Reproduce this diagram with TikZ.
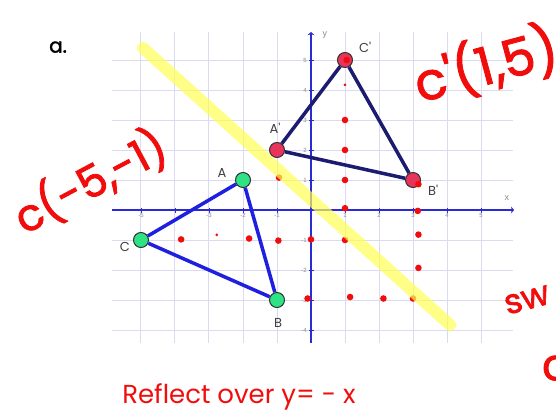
\documentclass[tikz,border=0pt]{standalone}
\usepackage{fontspec}
\setmainfont{Liberation Sans}
\newfontfamily\hand{Poppins}
\newfontfamily\marker[FakeBold=1.8]{Poppins}
\usepackage{xcolor}
\definecolor{gridc}{HTML}{DADAF2}
\definecolor{axis}{HTML}{2B2BD6}
\definecolor{edge}{HTML}{1F1FE0}
\definecolor{image}{HTML}{1B1B70}
\definecolor{pre}{HTML}{2EE383}
\definecolor{post}{HTML}{E8335A}
\definecolor{pen}{HTML}{F20D0D}
\definecolor{hl}{HTML}{FFFF55}
\usetikzlibrary{arrows.meta}

\begin{document}
\begin{tikzpicture}[x=34pt,y=30pt,
  pt/.style={circle,draw=black!80,line width=1pt,minimum size=15pt,inner sep=0pt},
  lbl/.style={font=\hand\fontsize{13}{13}\selectfont,text=black!75},
  tk/.style={font=\fontsize{6}{6}\selectfont,text=black!45,inner sep=1pt},
  note/.style={font=\marker\fontsize{44}{44}\selectfont,text=pen,inner sep=0pt}]
  \useasboundingbox[fill=white] (-311pt,-206pt) rectangle (245pt,210pt);
  % grid
  \foreach \i in {-5,...,5} \draw[gridc,line width=1pt] (\i,-4.43) -- (\i,5.93);
  \foreach \j in {-4,...,5} \draw[gridc,line width=1pt] (-5.85,\j) -- (5.94,\j);
  % axes
  \draw[axis,line width=1.4pt,-{Stealth[length=3pt,width=7pt]}] (-5.85,0) -- (5.97,0);
  \draw[axis,line width=1.4pt,-{Stealth[length=3pt,width=7pt]}] (0,-4.43) -- (0,5.93);
  \foreach \i in {-5,...,5} \draw[axis,line width=0.8pt] ([yshift=-2.5pt]\i,0) -- ([yshift=2.5pt]\i,0);
  \foreach \j in {-4,...,5} \draw[axis,line width=0.8pt] ([xshift=-2.5pt]0,\j) -- ([xshift=2.5pt]0,\j);
  \foreach \i in {-5,-3,-2,-1,1,2,3,4,5} \node[tk,below=2pt] at (\i,0) {\i};
  \foreach \j in {-4,-3,-2,-1,1,2,3,4,5} \node[tk,left=3pt] at (0,\j) {\j};
  \node[tk,font=\fontsize{9}{9}\selectfont] (xl) at (5.76,0.4) {x};
  \node[tk,font=\fontsize{9}{9}\selectfont] (yl) at (0.41,5.83) {y};
  % triangles
  \node[pt,fill=pre] (A) at (-2,1) {};
  \node[pt,fill=pre] (B) at (-1,-3) {};
  \node[pt,fill=pre] (C) at (-5,-1) {};
  \node[pt,fill=post] (A') at (-1,2) {};
  \node[pt,fill=post] (B') at (3,1) {};
  \node[pt,fill=post] (C') at (1,5) {};
  \foreach \p/\q in {A/B,B/C,C/A} \draw[edge,line width=3.5pt] (\p) -- (\q);
  \foreach \p/\q in {A'/B',B'/C',C'/A'} \draw[image,line width=3.5pt] (\p) -- (\q);
  \node[lbl] (la) at (-2.62,1.23) {A};
  \node[lbl] (lb) at (-0.97,-3.77) {B};
  \node[lbl] (lc) at (-5.47,-1.23) {C};
  \node[lbl] (la') at (-1.06,2.73) {A'};
  \node[lbl] (lb') at (3.59,0.67) {B'};
  \node[lbl] (lc') at (1.59,5.43) {C'};
  % red dots
  \foreach \x/\y in {1/3,1/2,1/1,1/0.06,1.05/5,3.16/0.86,3.14/-0.03,3.16/-0.82,3.16/-1.93,
    -3.82/-0.98,-1.82/-0.95,-0.96/-1.02,0/-0.98,1/-1,-0.1/-2.95,1.15/-2.9,2.13/-2.95,3/-2.95,-0.94/1.08}
    \fill[pen] (\x,\y) circle (3.3pt);
  \fill[pen] (1,4.17) circle (1.5pt);
  \fill[pen] (-2.77,-0.83) circle (1.5pt);
  % line of reflection
  \draw[hl,opacity=0.7,line width=12pt,line cap=round] (-4.94,5.4) -- (4.09,-3.83);
  % handwriting
  \node[font=\marker\fontsize{20}{20}\selectfont] (part) at (-7.44,5.43) {a.};
  \node[note,rotate=28] (cpre) at (-6.5,0.95) {c(-5,-1)};
  \node[note,rotate=15,anchor=west,font=\marker\fontsize{52}{52}\selectfont] (cpost) at (3.05,4.2) {c'(1,5)};
  \node[note,rotate=15,anchor=west,font=\marker\fontsize{34}{34}\selectfont] (sw) at (5.7,-3.2) {sw};
  \node[note,anchor=west] (cnext) at (6.79,-5.27) {c};
  \node[note,font=\hand\fontsize{26}{26}\selectfont] (rule) at (-2.12,-6.23) {Reflect over y= - x};
\end{tikzpicture}
\end{document}
